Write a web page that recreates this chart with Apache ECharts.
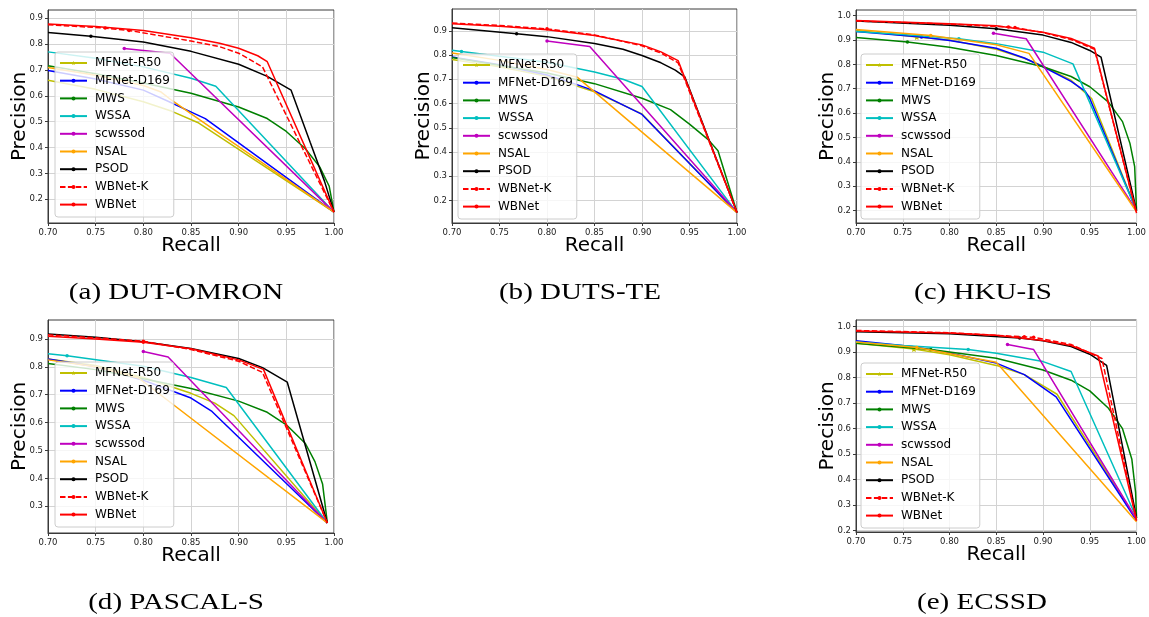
<!DOCTYPE html>
<html><head><meta charset="utf-8">
<script src="https://cdn.jsdelivr.net/npm/echarts@6/dist/echarts.min.js"></script>
<style>html,body{margin:0;padding:0;background:#fff}#c{width:1149px;height:617px}</style>
</head><body><div id="c"></div>
<script>
const methods = ['MFNet-R50','MFNet-D169','MWS','WSSA','scwssod','NSAL','PSOD','WBNet-K','WBNet'];
const captions = ['(a) DUT-OMRON','(b) DUTS-TE','(c) HKU-IS','(d) PASCAL-S','(e) ECSSD'];
const xTicks = [0.70,0.75,0.80,0.85,0.90,0.95,1.00];
const yTicksA = [0.2,0.3,0.4,0.5,0.6,0.7,0.8,0.9];
const yTicksB = [0.2,0.3,0.4,0.5,0.6,0.7,0.8,0.9];
const yTicksC = [0.2,0.3,0.4,0.5,0.6,0.7,0.8,0.9,1.0];
const yTicksD = [0.3,0.4,0.5,0.6,0.7,0.8,0.9];
const yTicksE = [0.2,0.3,0.4,0.5,0.6,0.7,0.8,0.9,1.0];

// [recall, precision, marker?]
// (a) DUT-OMRON
const omR50 = [[0.70,0.660],[0.75,0.625],[0.80,0.577],[0.83,0.540],[0.857,0.497],[1.0,0.150]];
const omD169 = [[0.70,0.698],[0.75,0.665],[0.80,0.622],[0.83,0.572],[0.865,0.512],[1.0,0.150]];
const omMWS = [[0.70,0.716],[0.75,0.685],[0.80,0.650],[0.85,0.610],[0.90,0.557],[0.93,0.512],[0.95,0.462],[0.97,0.395],[0.985,0.325],[0.995,0.25],[1.0,0.150]];
const omWSSA = [[0.70,0.770],[0.75,0.745],[0.80,0.712],[0.85,0.668],[0.876,0.637],[1.0,0.150]];
const omScw = [[0.78,0.783,1],[0.828,0.765],[1.0,0.150]];
const omNSAL = [[0.70,0.710],[0.75,0.680],[0.80,0.640],[0.818,0.616],[0.83,0.582],[0.86,0.505],[1.0,0.150]];
const omPSOD = [[0.70,0.845],[0.745,0.830,1],[0.80,0.808],[0.85,0.772],[0.90,0.722],[0.93,0.675],[0.955,0.622],[0.975,0.42],[0.99,0.27],[1.0,0.150]];
const omWBK = [[0.70,0.875],[0.76,0.862,1],[0.785,0.853,1],[0.85,0.812],[0.88,0.790],[0.90,0.765],[0.925,0.712],[1.0,0.150]];
const omWB = [[0.70,0.878],[0.75,0.868],[0.80,0.853],[0.85,0.825],[0.88,0.803],[0.90,0.784],[0.92,0.755],[0.93,0.732],[1.0,0.150]];

// (b) DUTS-TE
const tsR50 = [[0.70,0.782],[0.75,0.752],[0.80,0.712],[0.85,0.648],[0.90,0.557],[1.0,0.150]];
const tsD169 = [[0.70,0.792],[0.75,0.760],[0.80,0.718],[0.83,0.680],[0.85,0.652],[0.90,0.555],[1.0,0.150]];
const tsMWS = [[0.70,0.790],[0.75,0.758],[0.80,0.726],[0.85,0.682],[0.90,0.622],[0.93,0.575],[0.95,0.515],[0.97,0.45],[0.98,0.405],[1.0,0.150]];
const tsWSSA = [[0.70,0.820],[0.71,0.815,1],[0.75,0.795],[0.80,0.770],[0.85,0.730],[0.88,0.700],[0.90,0.670],[1.0,0.150]];
const tsScw = [[0.80,0.858,1],[0.845,0.835],[1.0,0.150]];
const tsNSAL = [[0.70,0.808],[0.75,0.778],[0.80,0.740],[0.832,0.708],[1.0,0.150]];
const tsPSOD = [[0.70,0.913],[0.768,0.888,1],[0.80,0.876],[0.85,0.848],[0.88,0.824],[0.90,0.798],[0.92,0.768],[0.935,0.738],[0.945,0.710],[1.0,0.150]];
const tsWBK = [[0.70,0.932],[0.75,0.922],[0.80,0.908,1],[0.85,0.883],[0.90,0.838],[0.92,0.808],[0.938,0.768],[1.0,0.150]];
const tsWB = [[0.70,0.929],[0.75,0.919],[0.80,0.904],[0.85,0.881],[0.90,0.842],[0.92,0.813],[0.938,0.777],[1.0,0.150]];

// (c) HKU-IS
const huR50 = [[0.70,0.940],[0.765,0.912,1],[0.80,0.900],[0.85,0.862],[0.88,0.825],[0.90,0.792],[0.93,0.735],[0.952,0.660],[1.0,0.200]];
const huD169 = [[0.70,0.935],[0.77,0.912,1],[0.80,0.898],[0.85,0.866],[0.88,0.826],[0.90,0.790],[0.93,0.730],[0.945,0.690],[0.95,0.660],[1.0,0.200]];
const huMWS = [[0.70,0.910],[0.755,0.892,1],[0.80,0.870],[0.85,0.836],[0.90,0.790],[0.93,0.750],[0.95,0.708],[0.97,0.645],[0.985,0.565],[0.993,0.475],[0.998,0.38],[1.0,0.200]];
const huWSSA = [[0.70,0.935],[0.75,0.922],[0.81,0.905,1],[0.85,0.885],[0.90,0.850],[0.932,0.802],[1.0,0.200]];
const huScw = [[0.847,0.928,1],[0.882,0.905],[1.0,0.200]];
const huNSAL = [[0.70,0.943],[0.78,0.918,1],[0.85,0.880],[0.885,0.845],[1.0,0.195]];
const huPSOD = [[0.70,0.978],[0.80,0.960],[0.85,0.946,1],[0.90,0.920],[0.93,0.890],[0.95,0.857],[0.962,0.830],[1.0,0.200]];
const huWBK = [[0.70,0.978],[0.80,0.965],[0.863,0.953,1],[0.87,0.951,1],[0.90,0.930],[0.93,0.902],[0.955,0.862],[1.0,0.190]];
const huWB = [[0.70,0.980],[0.80,0.967],[0.85,0.958],[0.90,0.932],[0.93,0.906],[0.955,0.866],[1.0,0.190]];

// (d) PASCAL-S
const paR50 = [[0.70,0.828],[0.75,0.805],[0.80,0.762],[0.85,0.705],[0.875,0.670],[0.895,0.625],[0.993,0.240]];
const paD169 = [[0.70,0.828],[0.75,0.800],[0.80,0.752],[0.85,0.688],[0.872,0.640],[0.993,0.240]];
const paMWS = [[0.70,0.812],[0.75,0.790],[0.80,0.757],[0.85,0.722],[0.90,0.677],[0.93,0.637],[0.95,0.592],[0.97,0.525],[0.98,0.46],[0.988,0.38],[0.993,0.240]];
const paWSSA = [[0.70,0.847],[0.72,0.840,1],[0.80,0.802],[0.85,0.762],[0.887,0.726],[0.993,0.240]];
const paScw = [[0.80,0.855,1],[0.826,0.835],[0.993,0.240]];
const paNSAL = [[0.70,0.825],[0.75,0.800],[0.795,0.760],[0.993,0.240]];
const paPSOD = [[0.70,0.918],[0.75,0.906],[0.80,0.890],[0.85,0.866],[0.90,0.830],[0.925,0.797],[0.951,0.745],[0.993,0.240]];
const paWBK = [[0.70,0.915],[0.75,0.904],[0.80,0.892,1],[0.85,0.862],[0.90,0.820],[0.925,0.780],[0.993,0.240]];
const paWB = [[0.70,0.910],[0.75,0.900],[0.80,0.888,1],[0.85,0.865],[0.90,0.825],[0.926,0.791],[0.993,0.240]];

// (e) ECSSD
const ecR50 = [[0.70,0.935],[0.762,0.912,1],[0.80,0.890],[0.85,0.848],[0.88,0.812],[0.915,0.735],[1.0,0.245]];
const ecD169 = [[0.70,0.945],[0.76,0.922],[0.80,0.897],[0.85,0.857],[0.88,0.812],[0.914,0.725],[1.0,0.240]];
const ecMWS = [[0.70,0.935],[0.78,0.910,1],[0.85,0.876],[0.90,0.830],[0.93,0.790],[0.95,0.748],[0.97,0.680],[0.985,0.600],[0.995,0.48],[0.999,0.35],[1.0,0.250]];
const ecWSSA = [[0.70,0.940],[0.75,0.926],[0.82,0.910,1],[0.85,0.896],[0.90,0.863],[0.93,0.824],[1.0,0.250]];
const ecScw = [[0.862,0.930,1],[0.89,0.910],[1.0,0.245]];
const ecNSAL = [[0.70,0.940],[0.765,0.918,1],[0.85,0.860],[1.0,0.235]];
const ecPSOD = [[0.70,0.980],[0.80,0.972],[0.875,0.955,1],[0.90,0.945],[0.93,0.922],[0.95,0.892],[0.968,0.848],[1.0,0.250]];
const ecWBK = [[0.70,0.985],[0.80,0.976],[0.88,0.960,1],[0.89,0.958,1],[0.93,0.930],[0.963,0.875],[1.0,0.240]];
const ecWB = [[0.70,0.983],[0.80,0.975],[0.85,0.966],[0.90,0.946],[0.93,0.926],[0.959,0.885],[1.0,0.240]];

const panelSeries = [
  [omR50, omD169, omMWS, omWSSA, omScw, omNSAL, omPSOD, omWBK, omWB],
  [tsR50, tsD169, tsMWS, tsWSSA, tsScw, tsNSAL, tsPSOD, tsWBK, tsWB],
  [huR50, huD169, huMWS, huWSSA, huScw, huNSAL, huPSOD, huWBK, huWB],
  [paR50, paD169, paMWS, paWSSA, paScw, paNSAL, paPSOD, paWBK, paWB],
  [ecR50, ecD169, ecMWS, ecWSSA, ecScw, ecNSAL, ecPSOD, ecWBK, ecWB]
];
const panelYTicks = [yTicksA, yTicksB, yTicksC, yTicksD, yTicksE];

// layout / style (not data)
const colors = ['#bfbf00','#0000ff','#008000','#00bfbf','#bf00bf','#ffa500','#000000','#ff0000','#ff0000'];
const STAR = 'path://M0,-10 L2.9,-4 L9.5,-3.1 L4.8,1.5 L5.9,8.1 L0,5 L-5.9,8.1 L-4.8,1.5 L-9.5,-3.1 L-2.9,-4 Z';
const grids = [
  {left:48, top:10, width:286, height:213, ymin:0.108, ymax:0.932},
  {left:452, top:9, width:285, height:214, ymin:0.107, ymax:0.990},
  {left:856, top:10, width:285, height:213, ymin:0.149, ymax:1.023},
  {left:48, top:320, width:286, height:213, ymin:0.204, ymax:0.968},
  {left:856, top:320, width:285, height:212, ymin:0.195, ymax:1.026}
];
const legendPos = [{left:55, top:52},{left:458, top:54},{left:861, top:54},{left:55, top:362},{left:861, top:363}];
const captionPos = [[176,293],[580,293],[983,293],[176,603],[982,603]];
const FONT = 'DejaVu Sans';

const option = {animation:false, grid:[], xAxis:[], yAxis:[], legend:[], series:[], graphic:[]};
grids.forEach((g, i) => {
  option.grid.push({left:g.left, top:g.top, width:g.width, height:g.height, show:true, borderColor:'#3a3a3a', borderWidth:1, backgroundColor:'transparent'});
  option.xAxis.push({type:'value', gridIndex:i, min:0.7, max:1.0, interval:0.05,
    name:'Recall', nameLocation:'middle', nameGap:13, nameMoveOverlap:false, nameTextStyle:{fontFamily:FONT, fontSize:20, color:'#000', verticalAlign:'top'},
    axisLine:{show:true, lineStyle:{color:'#3a3a3a'}}, axisTick:{show:true, length:3, lineStyle:{color:'#3a3a3a'}},
    axisLabel:{fontFamily:FONT, fontSize:8.5, color:'#222', margin:5, formatter:v=>v.toFixed(2)},
    splitLine:{show:true, lineStyle:{color:'#d3d3d3', width:1}}});
  option.yAxis.push({type:'value', gridIndex:i, min:g.ymin, max:g.ymax,
    name:'Precision', nameLocation:'middle', nameGap:18, nameMoveOverlap:false, nameTextStyle:{fontFamily:FONT, fontSize:20, color:'#000'},
    axisLine:{show:true, lineStyle:{color:'#3a3a3a'}},
    axisTick:{show:true, length:3, customValues:panelYTicks[i], lineStyle:{color:'#3a3a3a'}},
    axisLabel:{fontFamily:FONT, fontSize:8.5, color:'#222', margin:5, customValues:panelYTicks[i], formatter:v=>v.toFixed(1)},
    splitLine:{show:true, lineStyle:{color:'#d3d3d3', width:1}}});
  option.legend.push({orient:'vertical', left:legendPos[i].left, top:legendPos[i].top,
    data:methods, selectedMode:false, itemWidth:27, itemHeight:5, itemGap:5.7,
    padding:[5,4,6.4,4], backgroundColor:'rgba(255,255,255,0.8)', borderColor:'#cccccc', borderWidth:1, borderRadius:3,
    textStyle:{fontFamily:FONT, fontSize:12, color:'#000', padding:[0,0,0,3]}});
  panelSeries[i].forEach((arr, k) => {
    option.series.push({
      type:'line', name:methods[k], xAxisIndex:i, yAxisIndex:i,
      symbol: k === 0 ? STAR : 'circle', symbolSize: k === 0 ? 6 : 3.5, showSymbol:true,
      clip:true, z:2+k*0.01,
      lineStyle:{color:colors[k], width:1.5, type: k === 7 ? [5.5,2.4] : 'solid'},
      itemStyle:{color:colors[k]},
      data: arr.map(p => p[2] ? {value:[p[0],p[1]]} : {value:[p[0],p[1]], symbol:'none'})
    });
  });
  option.graphic.push({type:'text', x:captionPos[i][0], y:captionPos[i][1], scaleX:1.21,
    style:{text:captions[i], fontFamily:'Liberation Serif', fontSize:24, fill:'#000', textAlign:'center', textVerticalAlign:'middle'}});
});
const chart = echarts.init(document.getElementById('c'), null, {renderer:'canvas'});
chart.setOption(option);
</script></body></html>
